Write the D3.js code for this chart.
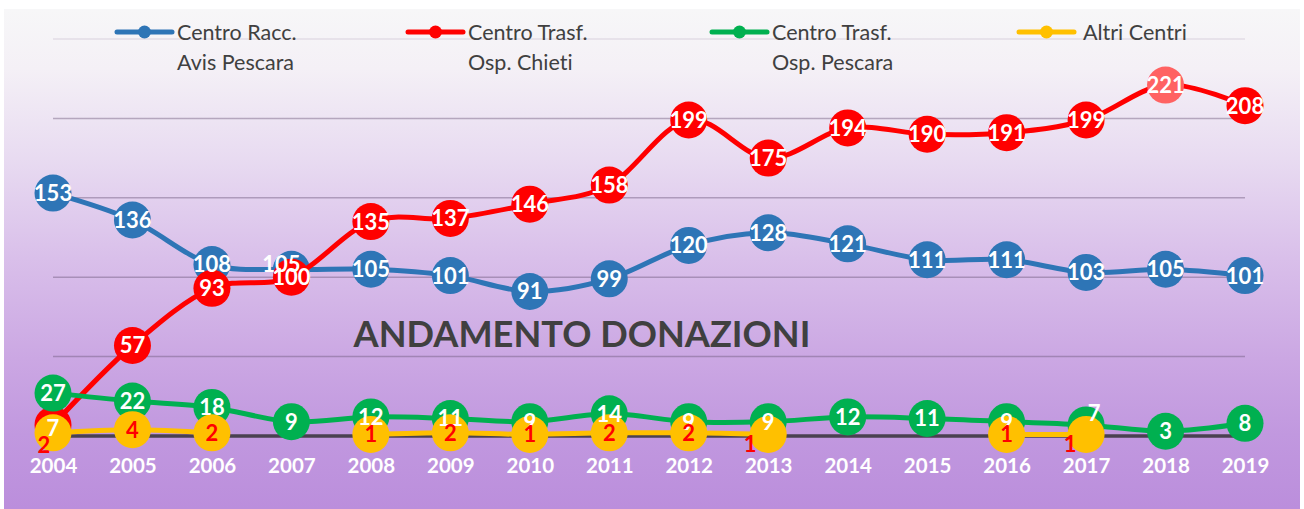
<!DOCTYPE html>
<html lang="it">
<head>
  <meta charset="utf-8">
  <title>Andamento Donazioni</title>
  <script src="https://d3js.org/d3.v7.min.js"></script>
</head>
<style>
  body { margin: 0; background: #fff; }
  svg { display: block; font-family: Lato, "Open Sans", sans-serif; font-variant-ligatures: none; }
</style>
<body>
  <div class="chart"></div>
</body>
<script>
// data
var years = [2004, 2005, 2006, 2007, 2008, 2009, 2010, 2011, 2012, 2013, 2014, 2015, 2016, 2017, 2018, 2019];
var aviePescara = [153, 136, 108, 105, 105, 101, 91, 99, 120, 128, 121, 111, 111, 103, 105, 101];
var ospChieti = [7, 57, 93, 100, 135, 137, 146, 158, 199, 175, 194, 190, 191, 199, 221, 208];
var ospPescara = [27, 22, 18, 9, 12, 11, 9, 14, 9, 9, 12, 11, 9, 7, 3, 8];
var altriCentri = [2, 4, 2, null, 1, 2, 1, 2, 2, 1, null, null, 1, 1, null, null];
var seriesNames = [["Centro Racc.", "Avis Pescara"], ["Centro Trasf.", "Osp. Chieti"], ["Centro Trasf.", "Osp. Pescara"], ["Altri Centri"]];
var yTicks = [0, 50, 100, 150, 200, 250];
var title = "ANDAMENTO DONAZIONI";

var width = 1304, height = 509;

var series = [
  { values: aviePescara, color: "#2E75B6", label: "#fff" },
  { values: ospChieti, color: "#FF0000", label: "#fff" },
  { values: ospPescara, color: "#00B050", label: "#fff" },
  { values: altriCentri, color: "#FFC000", label: "#FF0000" }
];

// small label nudges where Excel moved overlapping labels
var nudge = {
  "0-2007": [-10, -5],
  "1-2004": [0, 3],
  "2-2017": [8, -12],
  "3-2004": [-9, 12],
  "3-2013": [-18, 10],
  "3-2017": [-16, 10]
};
var highlight = { s: 1, year: 2018, fill: "#FF6262" };

var svg = d3.select(".chart").append("svg")
  .attr("width", width)
  .attr("height", height);

var defs = svg.append("defs");
var grad = defs.append("linearGradient")
  .attr("id", "bg")
  .attr("x1", 0).attr("y1", 0).attr("x2", 0).attr("y2", 1);
[[0, "#f7f7f8"], [0.12, "#f4f0f6"], [0.3, "#e8dbf1"], [0.5, "#d9bfea"], [0.7, "#cba7e3"], [0.85, "#c198df"], [1, "#bb8edc"]]
  .forEach(function(s) {
    grad.append("stop").attr("offset", s[0]).attr("stop-color", s[1]);
  });

svg.append("rect")
  .attr("x", 4).attr("y", 9)
  .attr("width", 1296).attr("height", height - 9)
  .attr("fill", "url(#bg)");

var x = d3.scalePoint().domain(years).range([53, 1245]);
var y = d3.scaleLinear().domain([0, 250]).range([436, 39]);

// gridlines
svg.append("g")
  .selectAll("line")
  .data(yTicks.filter(function(d) { return d > 0; }))
  .enter().append("line")
  .attr("x1", 53).attr("x2", 1245)
  .attr("y1", function(d) { return y(d); })
  .attr("y2", function(d) { return y(d); })
  .attr("stroke", function(d) { return d == 250 ? "#e2dde6" : "rgba(110,90,125,0.45)"; })
  .attr("stroke-width", 1.5);

// baseline
svg.append("line")
  .attr("x1", 53).attr("x2", 1245)
  .attr("y1", y(0)).attr("y2", y(0))
  .attr("stroke", "#4a4150")
  .attr("stroke-width", 3.5);

// x axis labels
var xAxis = svg.append("g")
  .attr("transform", "translate(0," + 466 + ")")
  .call(d3.axisBottom(x).tickSize(0).tickPadding(0));
xAxis.select(".domain").remove();
xAxis.selectAll("text")
  .attr("y", 0)
  .attr("dy", "0.36em")
  .attr("fill", "#fff")
  .style("font-family", "Lato, sans-serif")
  .style("font-weight", "bold")
  .style("font-size", "20.5px");

// title
var t = svg.append("text")
  .attr("x", 582).attr("y", 347)
  .attr("text-anchor", "middle")
  .attr("fill", "#404040")
  .style("font-weight", "bold")
  .style("font-size", "34px")
  .text(title);
var tw = t.node().getComputedTextLength();
t.style("font-size", (34 * 457 / tw) + "px");

var line = d3.line()
  .defined(function(d) { return d.v != null; })
  .curve(d3.curveCatmullRom.alpha(0))
  .x(function(d) { return x(d.year); })
  .y(function(d) { return y(d.v); });

series.forEach(function(s, si) {
  var pts = years.map(function(yr, i) { return { year: yr, v: s.values[i] }; });
  var g = svg.append("g");
  g.append("path")
    .datum(pts)
    .attr("d", line)
    .attr("fill", "none")
    .attr("stroke", s.color)
    .attr("stroke-width", 5)
    .attr("stroke-linejoin", "round");
  g.selectAll("circle")
    .data(pts.filter(function(d) { return d.v != null; }))
    .enter().append("circle")
    .attr("cx", function(d) { return x(d.year); })
    .attr("cy", function(d) { return y(d.v); })
    .attr("r", 18.5)
    .attr("fill", function(d) {
      return (si == highlight.s && d.year == highlight.year) ? highlight.fill : s.color;
    });
});

// data labels on top of everything
series.forEach(function(s, si) {
  var pts = years.map(function(yr, i) { return { year: yr, v: s.values[i] }; })
    .filter(function(d) { return d.v != null; });
  svg.append("g").selectAll("text")
    .data(pts)
    .enter().append("text")
    .attr("x", function(d) { var n = nudge[si + "-" + d.year]; return x(d.year) + (n ? n[0] : 0); })
    .attr("y", function(d) { var n = nudge[si + "-" + d.year]; return y(d.v) + (n ? n[1] : 0); })
    .attr("dy", "0.36em")
    .attr("text-anchor", "middle")
    .attr("fill", s.label)
    .style("font-weight", "bold")
    .style("font-size", "22px")
    .text(function(d) { return d.v; });
});

// legend
var legendX = [117, 408, 712, 1019];
var legend = svg.append("g");
series.forEach(function(s, si) {
  var lg = legend.append("g").attr("transform", "translate(" + legendX[si] + ",32)");
  lg.append("line")
    .attr("x1", 0).attr("x2", 55)
    .attr("stroke", s.color)
    .attr("stroke-width", 5)
    .attr("stroke-linecap", "round");
  lg.append("circle").attr("cx", 27.5).attr("r", 6.5).attr("fill", s.color);
  seriesNames[si].forEach(function(txt, k) {
    lg.append("text")
      .attr("x", si == 3 ? 64 : 60)
      .attr("y", k * 30)
      .attr("dy", "0.36em")
      .attr("fill", "#404040")
      .style("font-size", "21.5px")
      .text(txt);
  });
});
</script>
</html>
